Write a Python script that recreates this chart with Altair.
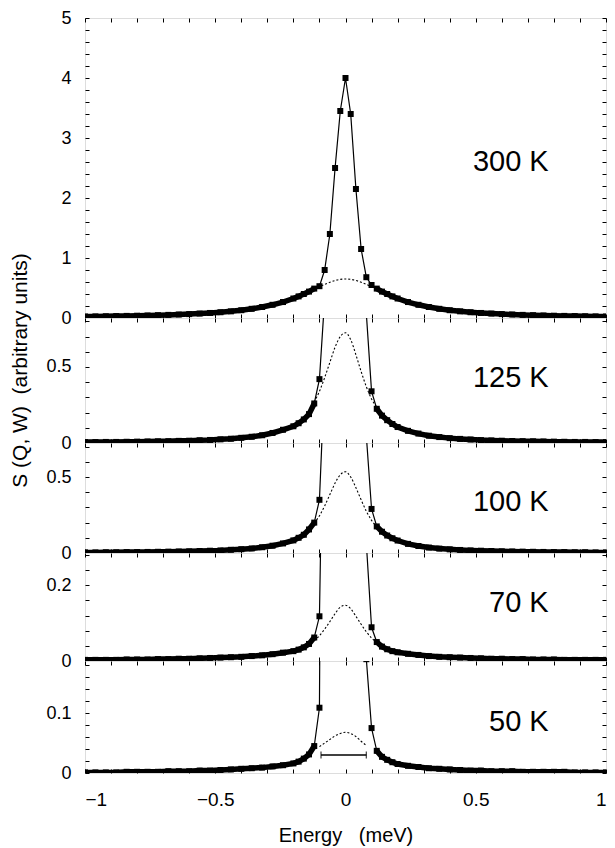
import altair as alt
import pandas as pd

FONT = "Liberation Sans"

# ---------------- data ----------------
E = [-1.00, -0.96, -0.92, -0.88, -0.84, -0.80, -0.76, -0.72, -0.68, -0.64,
     -0.60, -0.56, -0.52, -0.48, -0.44, -0.40, -0.36, -0.32, -0.28, -0.24, -0.20,
     -0.18, -0.16, -0.14, -0.12, -0.10, -0.08, -0.06, -0.04, -0.02, 0.00,
     0.02, 0.04, 0.06, 0.08, 0.10, 0.12, 0.14, 0.16, 0.18,
     0.20, 0.24, 0.28, 0.32, 0.36, 0.40, 0.44, 0.48, 0.52, 0.56, 0.60,
     0.64, 0.68, 0.72, 0.76, 0.80, 0.84, 0.88, 0.92, 0.96, 1.00]

S_300 = [0.025, 0.027, 0.029, 0.032, 0.035, 0.038, 0.042, 0.047, 0.052, 0.058, 0.065,
         0.074, 0.084, 0.096, 0.111, 0.130, 0.153, 0.183, 0.220, 0.266, 0.325,
         0.36, 0.40, 0.44, 0.49, 0.53, 0.80, 1.40, 2.50, 3.45, 4.00, 3.40, 2.15, 1.15,
         0.68, 0.55, 0.49, 0.44, 0.40, 0.36,
         0.325, 0.266, 0.220, 0.183, 0.153, 0.130, 0.111, 0.096, 0.084, 0.074, 0.065,
         0.058, 0.052, 0.047, 0.042, 0.038, 0.035, 0.032, 0.029, 0.027, 0.025]
S_125 = [0.006, 0.006, 0.007, 0.007, 0.008, 0.009, 0.010, 0.011, 0.012, 0.014, 0.015,
         0.018, 0.020, 0.024, 0.028, 0.034, 0.041, 0.051, 0.066, 0.087, 0.110,
         0.130, 0.155, 0.19, 0.26, 0.42, 0.95, 2.5, 4.5, 6.0, 6.5, 6.0, 4.5, 2.5,
         0.85, 0.34, 0.225, 0.18, 0.15, 0.125,
         0.105, 0.080, 0.062, 0.048, 0.039, 0.032, 0.027, 0.023, 0.019, 0.017, 0.015,
         0.013, 0.012, 0.011, 0.010, 0.009, 0.008, 0.007, 0.007, 0.006, 0.006]
S_100 = [0.004, 0.004, 0.005, 0.005, 0.006, 0.006, 0.007, 0.008, 0.009, 0.010, 0.011,
         0.013, 0.015, 0.017, 0.021, 0.025, 0.030, 0.038, 0.048, 0.063, 0.083,
         0.100, 0.120, 0.155, 0.20, 0.35, 1.17, 3.0, 5.0, 6.5, 7.0, 6.5, 5.0, 2.5,
         0.77, 0.29, 0.175, 0.14, 0.115, 0.097,
         0.082, 0.060, 0.046, 0.036, 0.029, 0.024, 0.020, 0.017, 0.015, 0.013, 0.011,
         0.010, 0.009, 0.008, 0.007, 0.006, 0.006, 0.005, 0.005, 0.004, 0.004]
S_70 = [0.003, 0.003, 0.003, 0.003, 0.004, 0.004, 0.004, 0.005, 0.005, 0.006, 0.006,
        0.007, 0.008, 0.009, 0.010, 0.011, 0.013, 0.015, 0.018, 0.022, 0.026,
        0.030, 0.036, 0.045, 0.062, 0.118, 0.95, 2.0, 3.0, 3.5, 3.6, 3.4, 2.8, 1.8,
        0.31, 0.089, 0.050, 0.038, 0.031, 0.026,
        0.023, 0.019, 0.016, 0.013, 0.011, 0.010, 0.009, 0.008, 0.007, 0.006, 0.006,
        0.005, 0.005, 0.004, 0.004, 0.004, 0.003, 0.003, 0.003, 0.003, 0.003]
S_50 = [0.001, 0.001, 0.001, 0.001, 0.002, 0.002, 0.002, 0.002, 0.003, 0.003, 0.003,
        0.004, 0.004, 0.005, 0.006, 0.007, 0.008, 0.009, 0.011, 0.013, 0.016,
        0.019, 0.024, 0.031, 0.045, 0.109, 1.7, 3.0, 3.5, 3.8, 3.9, 3.8, 3.5, 3.0,
        0.19, 0.075, 0.037, 0.027, 0.022, 0.018,
        0.015, 0.012, 0.010, 0.008, 0.007, 0.006, 0.005, 0.004, 0.004, 0.003, 0.003,
        0.003, 0.002, 0.002, 0.002, 0.002, 0.002, 0.001, 0.001, 0.001, 0.001]

# broad (quasi-elastic) component, dotted curve
E_broad = [-0.12, -0.10, -0.08, -0.06, -0.04, -0.02, 0.00, 0.02, 0.04, 0.06, 0.08, 0.10, 0.12]
B_300 = [0.478, 0.52, 0.56, 0.596, 0.625, 0.644, 0.65, 0.644, 0.625, 0.596, 0.56, 0.52, 0.478]
B_125 = [0.27, 0.34, 0.43, 0.53, 0.63, 0.70, 0.725, 0.68, 0.58, 0.47, 0.37, 0.29, 0.235]
B_100 = [0.197, 0.245, 0.31, 0.385, 0.46, 0.515, 0.535, 0.50, 0.43, 0.35, 0.275, 0.215, 0.172]
B_70 = [0.054, 0.067, 0.084, 0.104, 0.125, 0.142, 0.147, 0.138, 0.118, 0.097, 0.077, 0.061, 0.049]
B_50 = [None, 0.044, 0.050, 0.056, 0.062, 0.066, 0.068, 0.066, 0.061, 0.053, 0.046, None, None]

temps = ["300 K", "125 K", "100 K", "70 K", "50 K"]
label_E = 0.78
label_S = [2.6, 0.43, 0.337, 0.153, 0.0855]

y_top = [5, 0.822, 0.724, 0.285, 0.187]
panel_heights = [300, 125, 110, 108, 112]

x_ticks = [-1.0, -0.9, -0.8, -0.7, -0.6, -0.5, -0.4, -0.3, -0.2, -0.1, 0.0,
           0.1, 0.2, 0.3, 0.4, 0.5, 0.6, 0.7, 0.8, 0.9, 1.0]
x_labels_shown = [-1, -0.5, 0, 0.5, 1]

y_ticks = [
    [0, 0.2, 0.4, 0.6, 0.8, 1, 1.2, 1.4, 1.6, 1.8, 2, 2.2, 2.4, 2.6, 2.8, 3,
     3.2, 3.4, 3.6, 3.8, 4, 4.2, 4.4, 4.6, 4.8, 5],
    [0, 0.1, 0.2, 0.3, 0.4, 0.5, 0.6, 0.7, 0.8],
    [0, 0.1, 0.2, 0.3, 0.4, 0.5, 0.6, 0.7],
    [0, 0.04, 0.08, 0.12, 0.16, 0.2, 0.24, 0.28],
    [0, 0.02, 0.04, 0.06, 0.08, 0.1, 0.12, 0.14, 0.16, 0.18],
]
y_labels_shown = [[0, 1, 2, 3, 4, 5], [0, 0.5], [0, 0.5], [0, 0.2], [0, 0.1]]

res_E = [-0.094, 0.080]   # resolution bar (50 K)
res_S = 0.030

totals = [S_300, S_125, S_100, S_70, S_50]
broads = [B_300, B_125, B_100, B_70, B_50]

WIDTH = 521
NB = "\u00a0"


def shown_expr(vals):
    return "indexof([" + ",".join(str(v) for v in vals) + "], datum.value) >= 0 ? datum.label : ''"


def x_axis(orient, show_labels):
    kw = dict(orient=orient, values=x_ticks, tickSize=4, offset=-4, domain=False,
              grid=False, tickColor="black", tickWidth=1, labelOverlap=False)
    if show_labels:
        kw.update(labels=True, labelExpr=shown_expr(x_labels_shown), format="~g",
                  labelFlush=True, labelFont=FONT, labelFontSize=19, labelColor="black",
                  labelPadding=17,
                  title="Energy" + NB * 3 + "(meV)", titleFont=FONT, titleFontSize=20,
                  titleFontWeight="normal", titleColor="black", titlePadding=16)
    else:
        kw.update(labels=False, labelFlush=False, title="")
    return alt.Axis(**kw)


def y_axis_left(i):
    kw = dict(orient="left", values=y_ticks[i], tickSize=4, offset=-4, domain=False,
              grid=False, tickColor="black", tickWidth=1, labelOverlap=False,
              labelFlush=False, labelExpr=shown_expr(y_labels_shown[i]), format="~g",
              labelFont=FONT, labelFontSize=18, labelColor="black", labelPadding=14)
    if i == 1:
        kw.update(title="S (Q, W)" + NB * 2 + "(arbitrary units)", titleFont=FONT,
                  titleFontSize=21, titleFontWeight="normal", titleColor="black",
                  titleX=-59, titleY=52)
    else:
        kw.update(title="")
    return alt.Axis(**kw)


def y_axis_right(i):
    return alt.Axis(orient="right", values=y_ticks[i], tickSize=4, offset=-4,
                    domain=False, grid=False, tickColor="black", tickWidth=1,
                    labels=False, title="")


def panel(i):
    last = i == len(temps) - 1
    df = pd.DataFrame({"E": E, "S": totals[i]})
    df["side"] = ["L" if e < 0 else "R" for e in E]
    wing = df[(df["E"] <= -0.12) | (df["E"] >= 0.12)]
    bdf = pd.DataFrame({"E": E_broad, "S": broads[i]}).dropna()
    ldf = pd.DataFrame({"E": [label_E], "S": [label_S[i]], "t": [temps[i]]})

    xs = alt.Scale(domain=[-1, 1], nice=False, zero=False)
    ys = alt.Scale(domain=[0, y_top[i]], nice=False, zero=False)

    band = alt.Chart(wing).mark_line(color="black", strokeWidth=5.5, clip=True).encode(
        x=alt.X("E:Q", scale=xs, axis=x_axis("bottom", last)),
        y=alt.Y("S:Q", scale=ys, axis=y_axis_left(i)),
        detail="side:N",
    )
    thin = alt.Chart(df).mark_line(color="black", strokeWidth=1.2, clip=True).encode(
        x=alt.X("E:Q", scale=xs, axis=x_axis("top", False)),
        y=alt.Y("S:Q", scale=ys, axis=y_axis_right(i)),
    )
    pts = alt.Chart(df).mark_square(color="black", size=36, opacity=1, clip=True).encode(
        x=alt.X("E:Q", scale=xs, axis=None),
        y=alt.Y("S:Q", scale=ys, axis=None),
    )
    broad = alt.Chart(bdf).mark_line(color="black", strokeWidth=1.1, strokeDash=[2, 2],
                                     interpolate="monotone", clip=True).encode(
        x=alt.X("E:Q", scale=xs, axis=None),
        y=alt.Y("S:Q", scale=ys, axis=None),
    )
    lab = alt.Chart(ldf).mark_text(font=FONT, fontSize=29, align="right",
                                   baseline="middle", color="black").encode(
        x=alt.X("E:Q", scale=xs, axis=None),
        y=alt.Y("S:Q", scale=ys, axis=None),
        text="t:N",
    )
    layers = [band, thin, pts, broad, lab]
    if last:
        rdf = pd.DataFrame({"E1": [res_E[0]], "E2": [res_E[1]], "S": [res_S]})
        cdf = pd.DataFrame({"E": res_E, "S": [res_S, res_S]})
        rule = alt.Chart(rdf).mark_rule(color="black", strokeWidth=1.5).encode(
            x=alt.X("E1:Q", scale=xs, axis=None),
            x2="E2:Q",
            y=alt.Y("S:Q", scale=ys, axis=None),
        )
        caps = alt.Chart(cdf).mark_tick(color="black", orient="vertical", size=7,
                                        thickness=1.3).encode(
            x=alt.X("E:Q", scale=xs, axis=None),
            y=alt.Y("S:Q", scale=ys, axis=None),
        )
        layers += [rule, caps]
    return alt.layer(*layers).resolve_axis(x="independent", y="independent").properties(
        width=WIDTH, height=panel_heights[i])


chart = alt.vconcat(*[panel(i) for i in range(len(temps))], spacing=0,
                    bounds="flush").properties(
    padding={"left": 0, "right": 0, "top": 0, "bottom": 0}
).configure_view(stroke="black", strokeWidth=1.2).configure(font=FONT)

chart.save("out.html", embed_options={"renderer": "svg", "actions": False})
